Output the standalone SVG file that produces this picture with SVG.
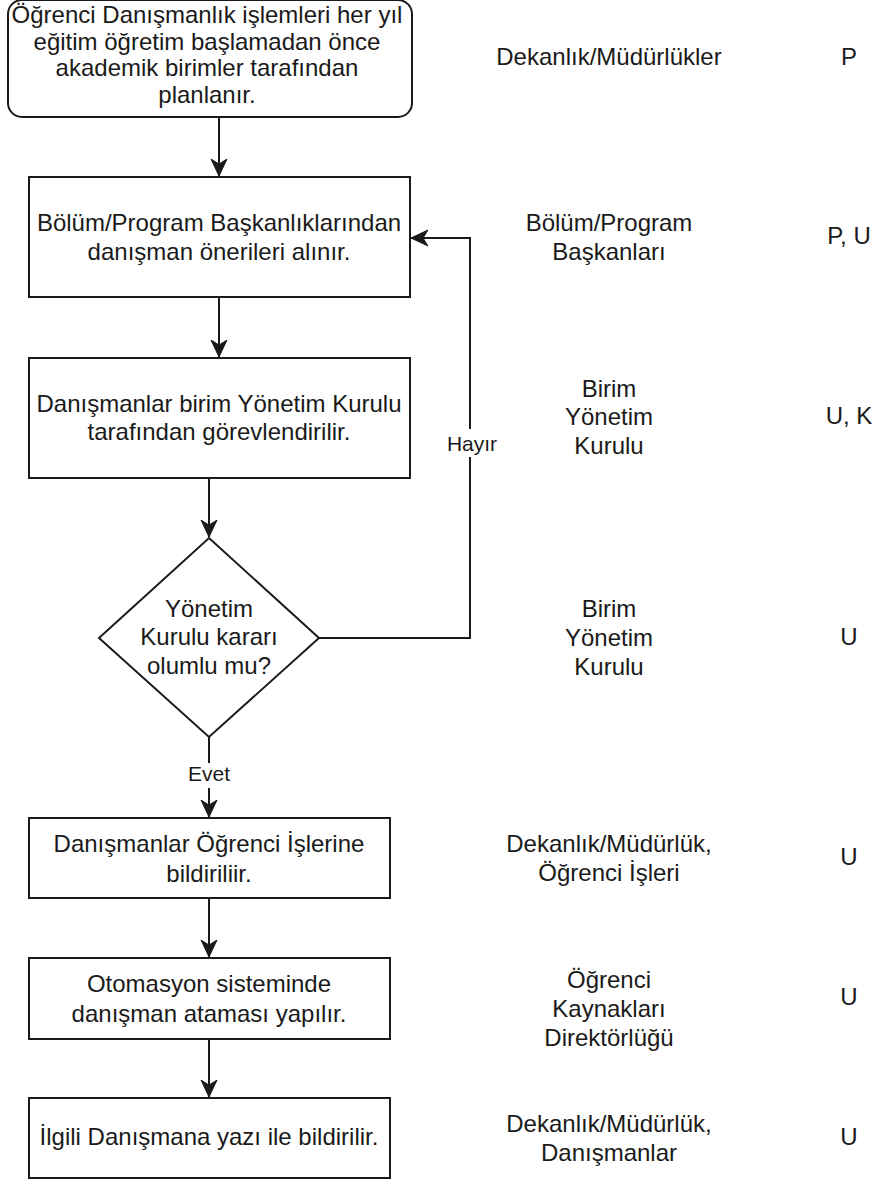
<svg xmlns="http://www.w3.org/2000/svg" width="877" height="1180" viewBox="0 0 877 1180">
<style>
  .box { fill: #ffffff; stroke: #1a1a1a; stroke-width: 2; }
  .edge { fill: none; stroke: #1a1a1a; stroke-width: 2; }
  text { font-family: "Liberation Sans", Arial, sans-serif; font-size: 24px; fill: #1a1a1a; text-anchor: middle; }
  .lbl { font-size: 21px; }
</style>
<defs>
  <marker id="arr" markerUnits="userSpaceOnUse" markerWidth="20" markerHeight="20" viewBox="0 0 20 20" refX="17" refY="10" orient="auto">
    <path d="M17,10 L0,2 L5,10 L0,18 Z" fill="#1a1a1a" stroke="#1a1a1a" stroke-width="1"/>
  </marker>
</defs>
<rect width="877" height="1180" fill="#ffffff"/>

<g id="connectors">
  <path class="edge" d="M219,117 L219,176" marker-end="url(#arr)"/>
  <path class="edge" d="M219,297 L219,357" marker-end="url(#arr)"/>
  <path class="edge" d="M209,478 L209,537" marker-end="url(#arr)"/>
  <path class="edge" d="M319,638 L470,638 L470,238 L411,238" marker-end="url(#arr)"/>
  <path class="edge" d="M209,737 L209,817" marker-end="url(#arr)"/>
  <path class="edge" d="M209,898 L209,957" marker-end="url(#arr)"/>
  <path class="edge" d="M209,1039 L209,1097" marker-end="url(#arr)"/>
  <rect x="444" y="429" width="56" height="28" fill="#ffffff"/>
  <text class="lbl" x="472" y="451">Hayır</text>
  <rect x="183" y="763" width="52" height="25" fill="#ffffff"/>
  <text class="lbl" x="209" y="781">Evet</text>
</g>

<g id="n1">
  <rect class="box" x="8" y="0" width="404" height="117" rx="14" ry="14"/>
  <text x="207" y="23">Öğrenci Danışmanlık işlemleri her yıl</text>
  <text x="207" y="50">eğitim öğretim başlamadan önce</text>
  <text x="207" y="76">akademik birimler tarafından</text>
  <text x="207" y="103">planlanır.</text>
</g>
<g id="n2">
  <rect class="box" x="29" y="177" width="381" height="120"/>
  <text x="219" y="231">Bölüm/Program Başkanlıklarından</text>
  <text x="219" y="260">danışman önerileri alınır.</text>
</g>
<g id="n3">
  <rect class="box" x="29" y="358" width="381" height="120"/>
  <text x="219" y="412">Danışmanlar birim Yönetim Kurulu</text>
  <text x="219" y="440">tarafından görevlendirilir.</text>
</g>
<g id="n4">
  <polygon class="box" points="209,538 319,638 209,737 99,638"/>
  <text x="209" y="617">Yönetim</text>
  <text x="209" y="645">Kurulu kararı</text>
  <text x="209" y="674">olumlu mu?</text>
</g>
<g id="n5">
  <rect class="box" x="29" y="818" width="361" height="80"/>
  <text x="209" y="852">Danışmanlar Öğrenci İşlerine</text>
  <text x="209" y="882">bildiriliir.</text>
</g>
<g id="n6">
  <rect class="box" x="29" y="958" width="361" height="81"/>
  <text x="209" y="992">Otomasyon sisteminde</text>
  <text x="209" y="1022">danışman ataması yapılır.</text>
</g>
<g id="n7">
  <rect class="box" x="29" y="1098" width="361" height="80"/>
  <text x="209" y="1145">İlgili Danışmana yazı ile bildirilir.</text>
</g>

<g id="resp1"><text x="609" y="65">Dekanlık/Müdürlükler</text></g>
<g id="code1"><text x="849" y="65">P</text></g>
<g id="resp2"><text x="609" y="231">Bölüm/Program</text><text x="609" y="260">Başkanları</text></g>
<g id="code2"><text x="849" y="244">P, U</text></g>
<g id="resp3"><text x="609" y="397">Birim</text><text x="609" y="425">Yönetim</text><text x="609" y="454">Kurulu</text></g>
<g id="code3"><text x="849" y="424">U, K</text></g>
<g id="resp4"><text x="609" y="617">Birim</text><text x="609" y="646">Yönetim</text><text x="609" y="675">Kurulu</text></g>
<g id="code4"><text x="849" y="645">U</text></g>
<g id="resp5"><text x="609" y="852">Dekanlık/Müdürlük,</text><text x="609" y="881">Öğrenci İşleri</text></g>
<g id="code5"><text x="849" y="865">U</text></g>
<g id="resp6"><text x="609" y="988">Öğrenci</text><text x="609" y="1017">Kaynakları</text><text x="609" y="1046">Direktörlüğü</text></g>
<g id="code6"><text x="849" y="1005">U</text></g>
<g id="resp7"><text x="609" y="1132">Dekanlık/Müdürlük,</text><text x="609" y="1161">Danışmanlar</text></g>
<g id="code7"><text x="849" y="1145">U</text></g>
</svg>
